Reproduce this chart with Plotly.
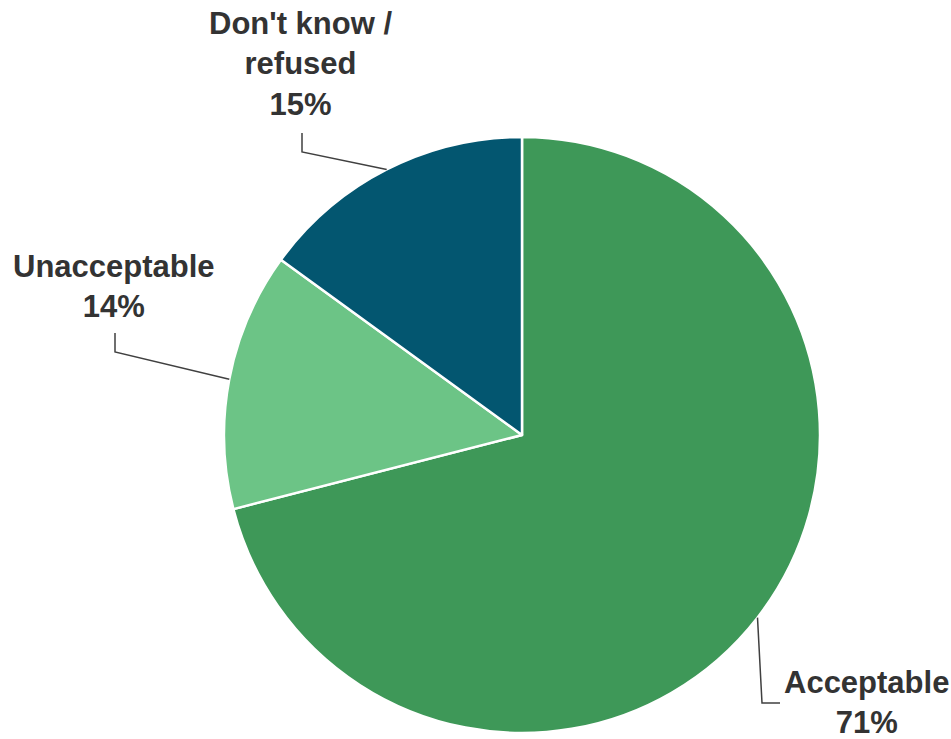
import math
import plotly.graph_objects as go

# Survey responses (percent), drawn clockwise from 12 o'clock
labels = ["Acceptable", "Unacceptable", "Don't know /<br>refused"]
values = [71, 14, 15]
colors = ["#3E9858", "#6CC486", "#035670"]

W, H = 951, 739
CX, CY, R = 522, 435, 298  # pie centre and radius in pixels

# Label placement (pixel centres) and leader-line elbows
label_pos = [(866, 702), (114, 286), (300, 64)]
elbows = [[(762, 703), (780, 703)], [(115, 352), (115, 333)], [(302, 152), (302, 133)]]

fig = go.Figure()
fig.add_trace(go.Pie(
    labels=labels, values=values, sort=False, direction="clockwise", rotation=0,
    marker=dict(colors=colors, line=dict(color="white", width=2.5)),
    textinfo="none", hoverinfo="label+percent", showlegend=False,
    domain=dict(x=[(CX - R) / W, (CX + R) / W], y=[(H - CY - R) / H, (H - CY + R) / H]),
))

# Leader lines start at each slice's mid-angle on the rim
total = sum(values)
cum = 0
shapes, annotations = [], []
for lab, v, (lx, ly), elb in zip(labels, values, label_pos, elbows):
    mid = (cum + v / 2) / total * 2 * math.pi
    cum += v
    ex, ey = CX + R * math.sin(mid), CY - R * math.cos(mid)
    pts = [(ex, ey)] + elb
    path = "M " + " L ".join(f"{x:.1f},{y:.1f}" for x, y in pts)
    shapes.append(dict(type="path", path=path, xref="x", yref="y",
                       line=dict(color="#404040", width=1.5)))
    annotations.append(dict(
        x=lx, y=ly, xref="x", yref="y", showarrow=False,
        text=f"<b>{lab}<br>{v}%</b>", align="center",
        font=dict(family="Liberation Sans, Arial, sans-serif", size=31, color="#333333"),
        xanchor="center", yanchor="middle",
    ))

fig.update_layout(
    width=W, height=H, margin=dict(l=0, r=0, t=0, b=0),
    paper_bgcolor="white", plot_bgcolor="rgba(0,0,0,0)",
    xaxis=dict(range=[0, W], visible=False, domain=[0, 1], fixedrange=True),
    yaxis=dict(range=[H, 0], visible=False, domain=[0, 1], fixedrange=True),
    shapes=shapes, annotations=annotations,
)
fig.write_html("out.html")
